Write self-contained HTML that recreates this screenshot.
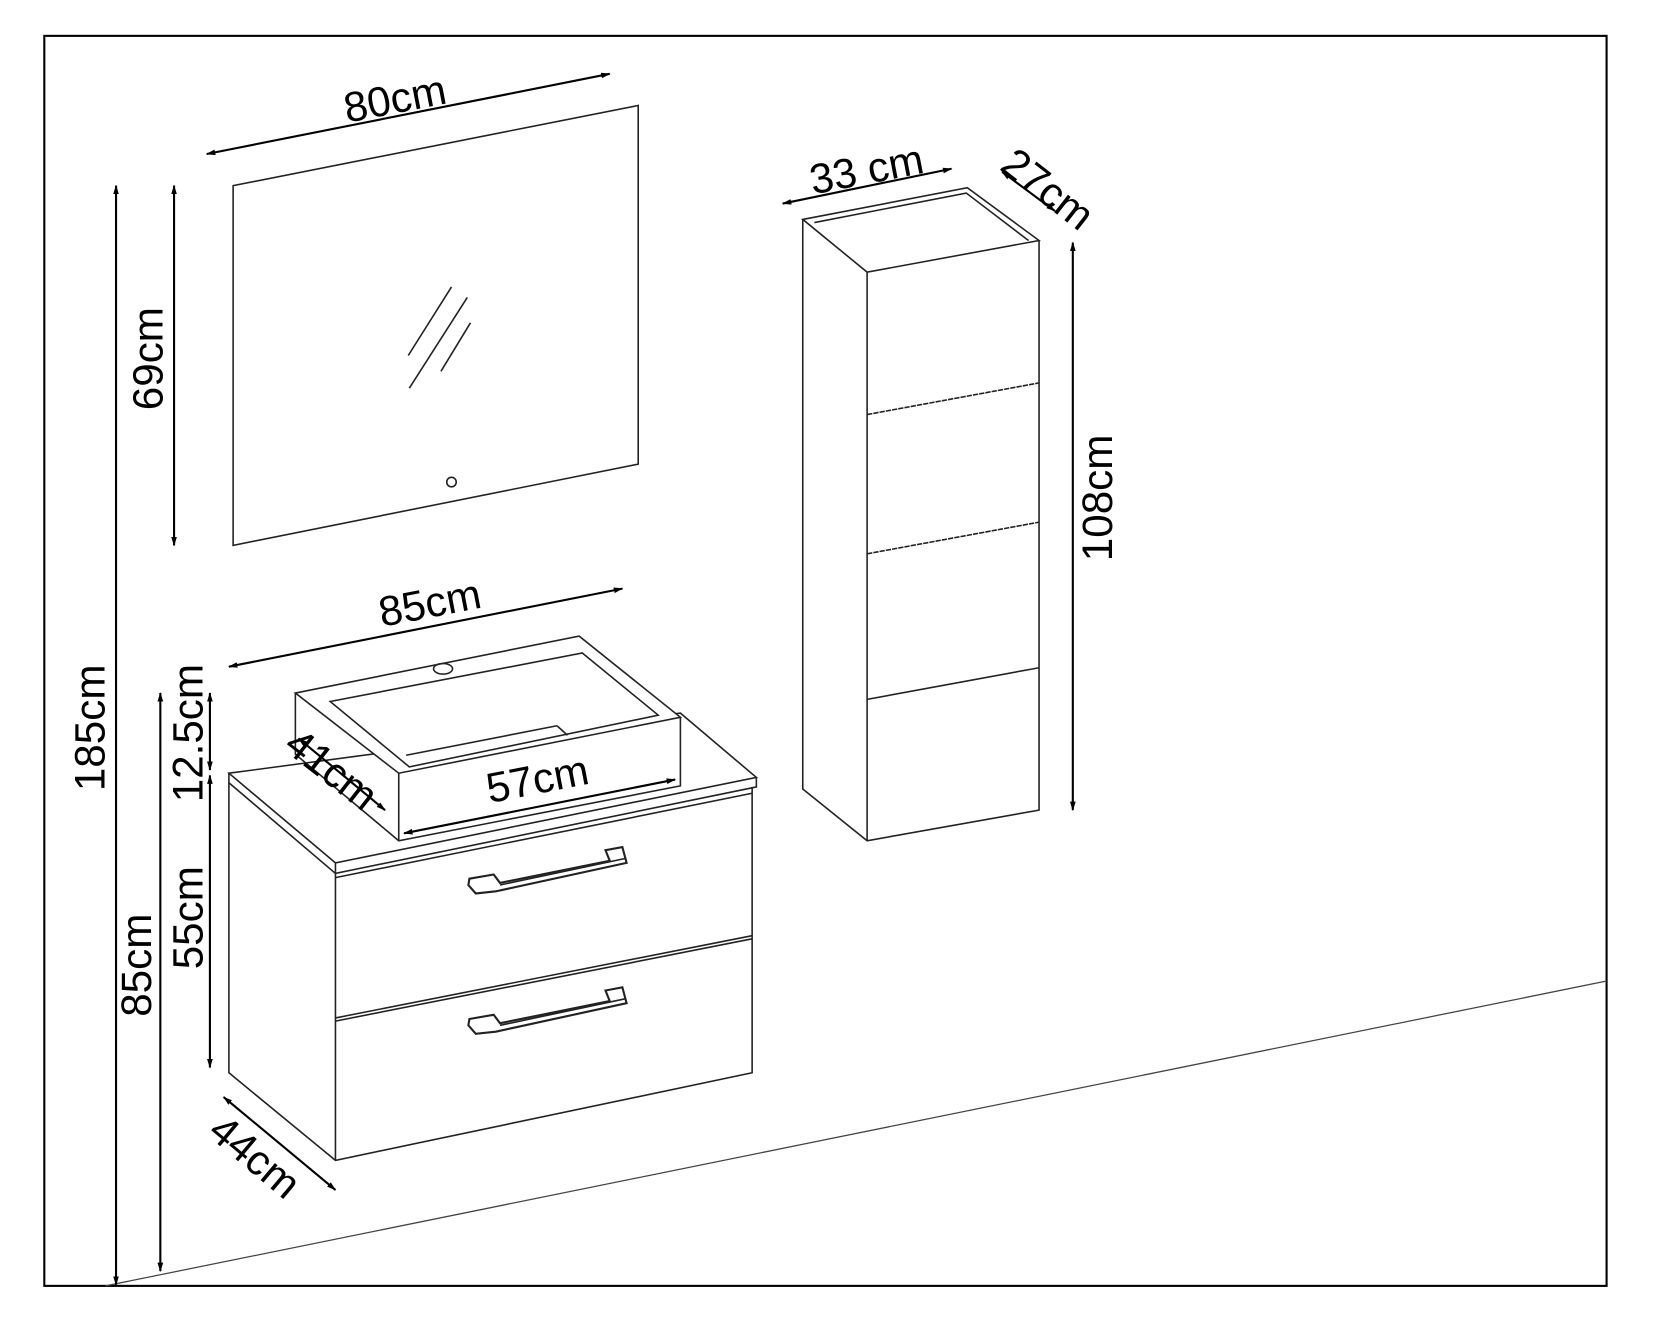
<!DOCTYPE html>
<html><head><meta charset="utf-8"><style>html,body{margin:0;padding:0;background:#fff}svg{display:block}</style></head>
<body>
<svg width="1653" height="1319" viewBox="0 0 1567 1250.4" preserveAspectRatio="none" xmlns="http://www.w3.org/2000/svg" font-family="Liberation Sans, sans-serif">
<defs>
<marker id="a" viewBox="0 0 10 10" refX="9" refY="5" markerWidth="9" markerHeight="9" markerUnits="userSpaceOnUse" orient="auto-start-reverse"><path d="M0,2 L10,5 L0,8 z" fill="#000"/></marker>
</defs>
<rect x="42" y="34" width="1481" height="1185" fill="none" stroke="#000" stroke-width="2"/>
<line x1="100" y1="1219" x2="1523" y2="930" stroke="#444" stroke-width="1.2"/>
<g fill="none" stroke="#222" stroke-width="1.5">
<polygon points="221,176 605,100 605,440 221,517"/>
<line x1="387" y1="337" x2="428" y2="272"/>
<line x1="388" y1="368" x2="443" y2="282"/>
<line x1="418" y1="352" x2="446" y2="306"/>
<circle cx="428" cy="457" r="4.5"/>
<polygon points="217,733 645,676 717,737 318,818" fill="#fff"/>
<polyline points="217,733 217,742 318,828 717,746 717,737"/>
<line x1="318" y1="818" x2="318" y2="828"/>
<polyline points="217,742 217,1017 318,1100 713,1017 713,746"/>
<line x1="318" y1="828" x2="318" y2="1100"/>
<line x1="318" y1="832" x2="713" y2="752"/>
<line x1="318" y1="965" x2="713" y2="887"/>
<line x1="318" y1="968" x2="713" y2="890"/>
<polygon points="445,833 468,829 474,837 578,816 574,806 590,803 594,818 470,845 451,847 444,839" stroke-width="2"/>
<line x1="474" y1="839" x2="592" y2="814"/>
<polygon points="445,966 468,962 474,970 578,949 574,939 590,936 594,951 470,978 451,980 444,972" stroke-width="2"/>
<line x1="474" y1="972" x2="592" y2="947"/>
<polygon points="280,657 549,603 645,680 378,733" fill="#fff"/>
<polyline points="280,657 280,715 378,797 645,745 645,680"/>
<line x1="378" y1="733" x2="378" y2="797"/>
<polygon points="313,665 552,619 624,678 388,727"/>
<line x1="385" y1="716" x2="528" y2="688"/>
<line x1="528" y1="688" x2="538" y2="697"/>
<ellipse cx="420" cy="634" rx="9" ry="5"/>
<polygon points="761,208 917,178 985,228 822,258" fill="#fff"/>
<polyline points="772,211 916,183 975,228"/>
<polyline points="761,208 761,748 822,797 985,768 985,228"/>
<line x1="822" y1="258" x2="822" y2="797"/>
<line x1="822" y1="393" x2="985" y2="363" stroke-dasharray="5,1"/>
<line x1="822" y1="525" x2="985" y2="495" stroke-dasharray="5,1"/>
<line x1="822" y1="663" x2="985" y2="633"/>
</g>
<g stroke="#000" stroke-width="2" marker-start="url(#a)" marker-end="url(#a)" fill="none">
<line x1="196" y1="146" x2="578" y2="70"/>
<line x1="165" y1="176" x2="165" y2="517"/>
<line x1="110" y1="176" x2="110" y2="1218"/>
<line x1="152" y1="657" x2="152" y2="1205"/>
<line x1="199" y1="657" x2="199" y2="730"/>
<line x1="199" y1="735" x2="199" y2="1012"/>
<line x1="212" y1="1040" x2="318" y2="1128"/>
<line x1="217" y1="632" x2="590" y2="558"/>
<line x1="383" y1="790" x2="640" y2="739"/>
<line x1="283" y1="700" x2="365" y2="768"/>
<line x1="742" y1="193" x2="902" y2="160"/>
<line x1="950" y1="163" x2="1000" y2="200"/>
<line x1="1017" y1="230" x2="1017" y2="768"/>
</g>
<g font-size="40" fill="#000" text-anchor="middle">
<text transform="translate(377,107) rotate(-11)">80cm</text>
<text transform="translate(154,340) rotate(-90)">69cm</text>
<text transform="translate(99,690) rotate(-90)">185cm</text>
<text transform="translate(143,915) rotate(-90)">85cm</text>
<text transform="translate(192,695) rotate(-90)">12.5cm</text>
<text transform="translate(192,870) rotate(-90)">55cm</text>
<text transform="translate(233,1107) rotate(40)">44cm</text>
<text transform="translate(410,585) rotate(-11)">85cm</text>
<text transform="translate(512,752) rotate(-11)">57cm</text>
<text transform="translate(306,740) rotate(38)">41cm</text>
<text transform="translate(824,174) rotate(-11)">33 cm</text>
<text transform="translate(985,190) rotate(38)">27cm</text>
<text transform="translate(1054,472) rotate(-90)">108cm</text>
</g>
</svg>
</body></html>
